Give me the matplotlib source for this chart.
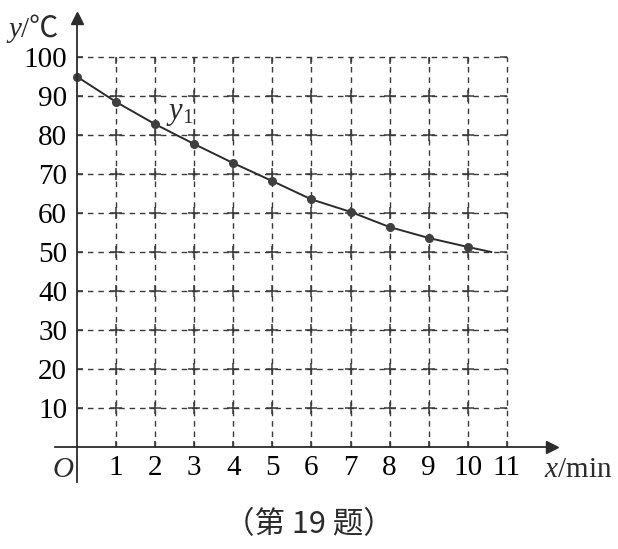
import numpy as np
import matplotlib
matplotlib.use("Agg")
import matplotlib.pyplot as plt

# readings of the cooling curve y1
x_min = [0, 1, 2, 3, 4, 5, 6, 7, 8, 9, 10]
temp_c = [95, 88.5, 82.8, 77.7, 72.8, 68.2, 63.5, 60.3, 56.4, 53.6, 51.3]
# the drawn curve runs a bit past the last reading
curve_end = (10.6, 50)

x_ticks = list(range(1, 12))
y_ticks = list(range(10, 101, 10))

plt.rcParams['font.family'] = ['Liberation Serif', 'Noto Sans CJK SC', 'DejaVu Sans']
plt.rcParams['mathtext.fontset'] = 'custom'
plt.rcParams['mathtext.rm'] = 'Liberation Serif'
plt.rcParams['mathtext.it'] = 'Liberation Serif:italic'

ink = '#2b2b2b'
grid_c = '#3a3a3a'

fig = plt.figure(figsize=(6.18, 5.49), dpi=100)
ax = fig.add_axes([0.089, 0.122, 0.804, 0.845])
ax.set_xlim(-0.56, 12.15)
ax.set_ylim(-9, 110)

for s in ['top', 'right']:
    ax.spines[s].set_visible(False)
ax.spines['left'].set_position(('data', 0))
ax.spines['bottom'].set_position(('data', 0))
ax.spines['left'].set_color(ink)
ax.spines['bottom'].set_color(ink)
ax.spines['left'].set_linewidth(1.3)
ax.spines['bottom'].set_linewidth(1.3)

# arrow heads
ax.plot(1, 0, marker='>', color=ink, markersize=8, transform=ax.get_yaxis_transform(), clip_on=False)
ax.plot(0, 1, marker='^', color=ink, markersize=8, transform=ax.get_xaxis_transform(), clip_on=False)

# dashed grid
for xv in x_ticks:
    ax.plot([xv, xv], [0, 100], ls=(0, (4, 3.5)), color=grid_c, lw=1.0)
for yv in y_ticks:
    ax.plot([0, 11], [yv, yv], ls=(0, (4, 3.5)), color=grid_c, lw=1.0)

# small crosses at grid points
cx, cy = np.meshgrid(x_ticks[:-1], y_ticks[:-1])
ax.plot(cx.ravel(), cy.ravel(), ls='none', marker='+', markersize=9, mew=1.1, color=grid_c)
ax.plot(x_ticks[:-1], [100] * 10, ls='none', marker=3, markersize=5, mew=1.1, color=grid_c)
ax.plot([11] * 10, y_ticks, ls='none', marker=0, markersize=5, mew=1.1, color=grid_c)

# curve and points
ax.plot(x_min + [curve_end[0]], temp_c + [curve_end[1]], color=ink, lw=1.4)
ax.plot(x_min, temp_c, ls='none', marker='o', markersize=5.5, color='#404040')

ax.set_xticks(x_ticks)
ax.set_xticklabels([str(v) for v in x_ticks], fontsize=21)
ax.set_yticks(y_ticks)
ax.set_yticklabels([str(v) for v in y_ticks], fontsize=21)
ax.tick_params(axis='both', direction='in', length=4, color=ink, width=1.1)
ax.tick_params(axis='x', pad=6)
ax.tick_params(axis='y', pad=7)

ax.text(-0.35, -2.5, 'O', fontsize=21, style='italic', ha='center', va='top', color=ink)
ax.text(2.62, 85.5, r'$y_1$', fontsize=22, ha='center', va='center', color=ink)
ax.text(-1.42, 107, 'y', fontsize=21, style='italic', ha='right', va='center', color=ink)
ax.text(-1.42, 107, '/℃', fontsize=21, ha='left', va='center', color=ink)
ax.text(11.95, -2.5, r'$x$/min', fontsize=21, ha='left', va='top', color=ink)

fig.text(0.5, 0.045, '（第 19 题）', fontsize=22, ha='center', va='center', color=ink,
         family=['Noto Sans CJK SC', 'DejaVu Sans'])

fig.savefig('out.png', dpi=100)
